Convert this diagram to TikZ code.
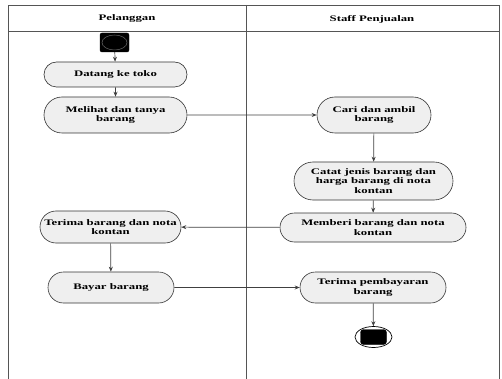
\documentclass[tikz,border=0pt]{standalone}
\usepackage{fontspec}
\setmainfont[FakeStretch=1.5]{Liberation Serif}
\usetikzlibrary{arrows.meta,shapes.misc,shapes.geometric}
\definecolor{lane}{HTML}{555555}
\definecolor{actfill}{HTML}{EFEFEF}
\tikzset{
  act/.style={rounded rectangle, draw=black!80, fill=actfill, line width=0.6pt,
    minimum height=#1, inner xsep=2pt, inner ysep=0pt, align=center,
    font=\fontsize{8.5}{9.7}\selectfont\bfseries},
  act/.default=25pt,
  flow/.style={draw=black!75, line width=0.7pt, -{Stealth[length=5pt,width=4pt]}},
  laneline/.style={draw=lane, line width=0.8pt},
  hdr/.style={font=\fontsize{8.5}{10}\selectfont\bfseries}
}
\begin{document}
\begin{tikzpicture}[x=1pt,y=-1pt]
\useasboundingbox (0,0) rectangle (502,379);
% swimlanes
\draw[laneline] (8,381) -- (8,5) -- (499,5) -- (499,381);
\draw[laneline] (8,31) -- (499,31);
\draw[laneline] (246,5) -- (246,381);
\node[hdr] (h1) at (127,18) {Pelanggan};
\node[hdr] (h2) at (372,19) {Staff Penjualan};
% start
\node[draw=black, fill=black, rounded corners=2pt, minimum width=29pt, minimum height=19pt, inner sep=0pt] (start) at (114.5,42.5) {};
\node[ellipse, draw=black!60, line width=0.5pt, minimum width=25pt, minimum height=15pt, inner sep=0pt] (startin) at (start.center) {};
% activities
\node[act=25pt, minimum width=147pt] (datang) at (115.5,74.5) {Datang ke toko};
\node[act=36pt, minimum width=147pt] (melihat) at (115.5,115) {Melihat dan tanya\\barang};
\node[act=36pt, minimum width=118pt] (cari) at (374,115) {Cari dan ambil\\barang};
\node[act=38pt, minimum width=163pt] (catat) at (373.5,181) {Catat jenis barang dan\\harga barang di nota\\kontan};
\node[act=29pt, minimum width=190pt] (memberi) at (373,227.5) {Memberi barang dan nota\\kontan};
\node[act=32pt, minimum width=145pt] (terima) at (110.5,227) {Terima barang dan nota\\kontan};
\node[act=31pt, minimum width=130pt] (bayar) at (111,287.5) {Bayar barang};
\node[act=31pt, minimum width=150pt] (pembayaran) at (373,287.5) {Terima pembayaran\\barang};
% end
\node[ellipse, draw=black, line width=0.7pt, fill=white, minimum width=37pt, minimum height=21pt, inner sep=0pt] (endout) at (373.5,337) {};
\node[draw=black, fill=black, rounded corners=3pt, minimum width=26pt, minimum height=15pt, inner sep=0pt] (endin) at (endout.center) {};
% flows
\draw[flow] (start) -- (datang);
\draw[flow] (datang) -- (melihat);
\draw[flow] (melihat) -- (cari);
\draw[flow] (cari) -- (catat);
\draw[flow] (catat) -- (memberi);
\draw[flow] (memberi) -- (terima);
\draw[flow] (terima) -- (bayar);
\draw[flow] (bayar) -- (pembayaran);
\draw[flow] (pembayaran) -- (endout);
\end{tikzpicture}
\end{document}
